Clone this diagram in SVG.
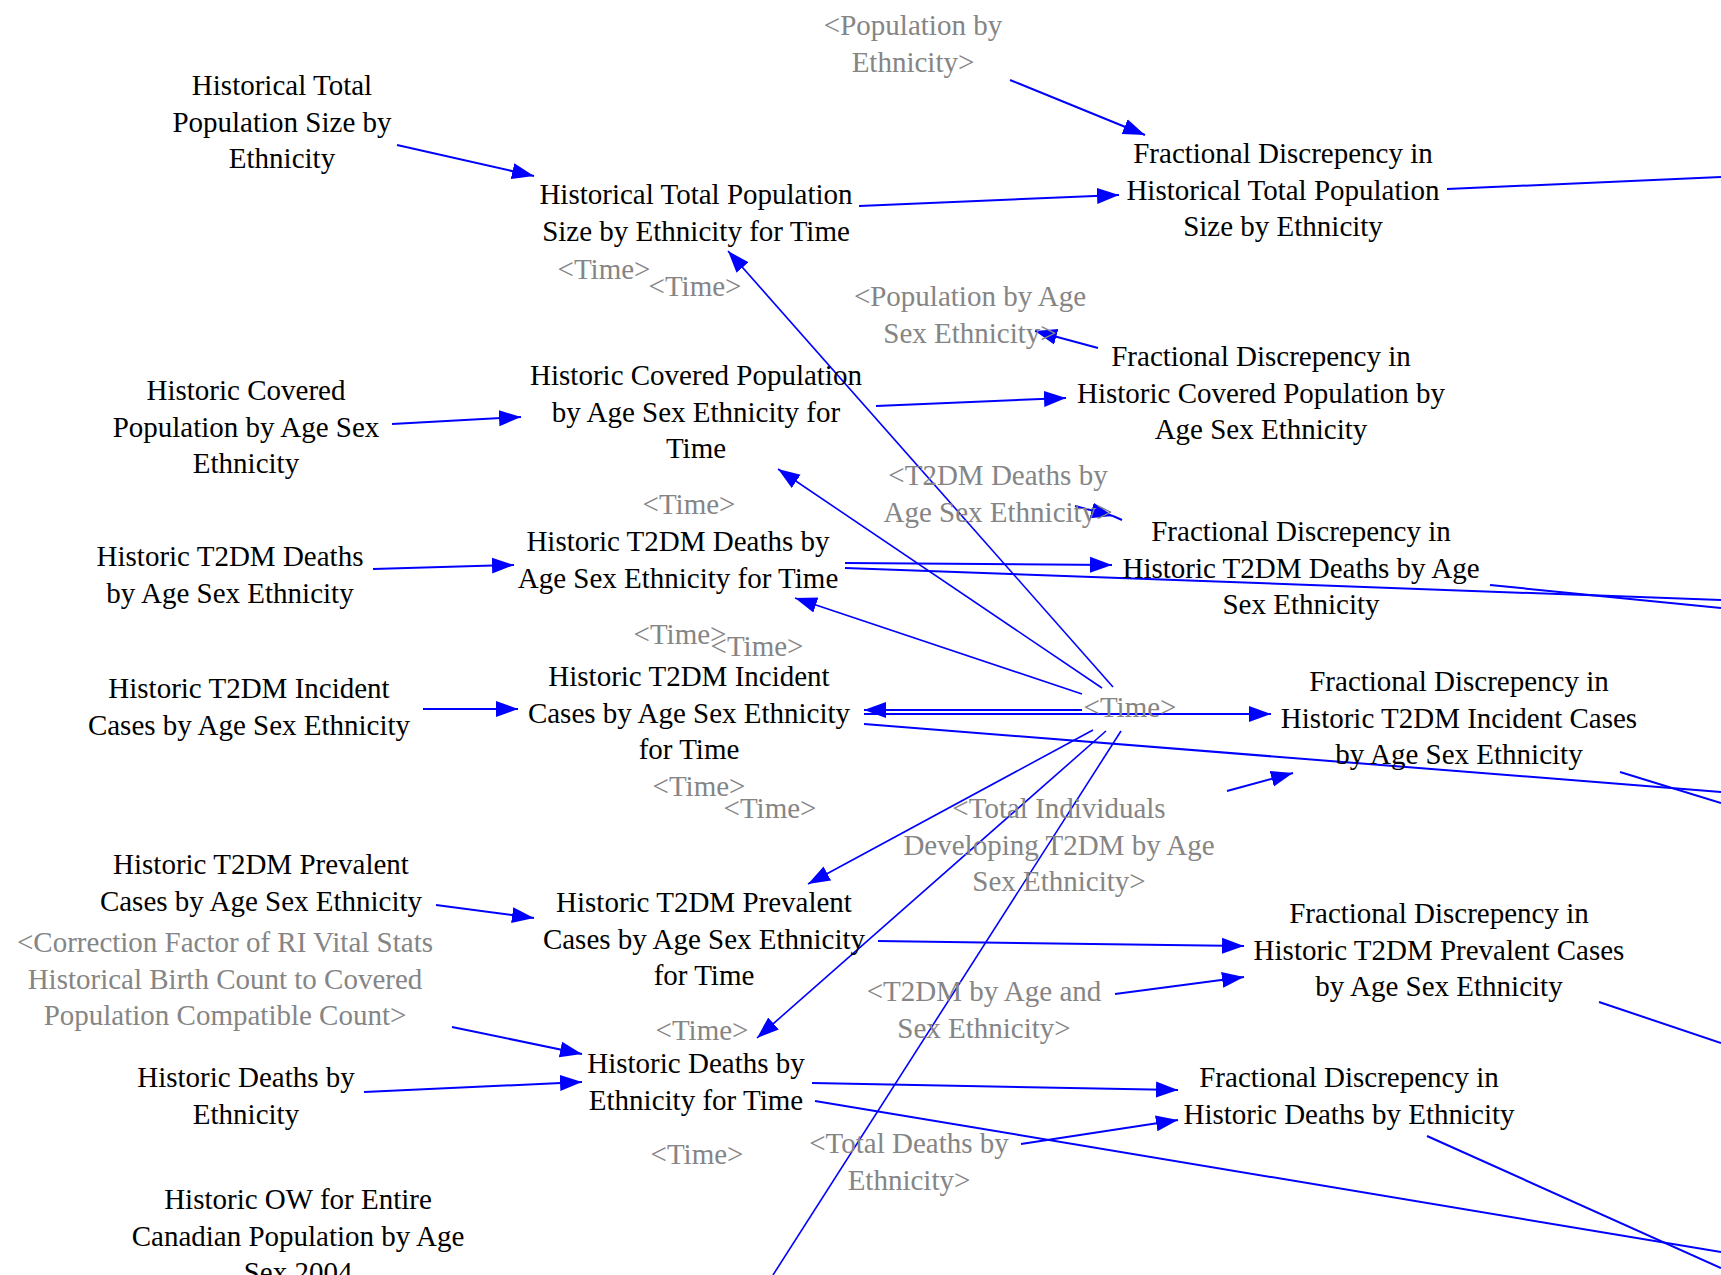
<svg xmlns="http://www.w3.org/2000/svg" width="1721" height="1275" viewBox="0 0 1721 1275">
<style>
.n{font-family:"Liberation Serif","Times New Roman",serif;font-size:29px;fill:#000;text-anchor:middle}
.g{font-family:"Liberation Serif","Times New Roman",serif;font-size:29px;fill:#858585;text-anchor:middle}
.c line{stroke:#0000FF;stroke-width:2;fill:none}
.c line.a{marker-end:url(#ah)}
.c line.t{stroke-width:1.6}
</style>
<defs>
<marker id="ah" markerUnits="userSpaceOnUse" markerWidth="24" markerHeight="18" refX="22" refY="8.5" orient="auto" viewBox="0 0 24 18">
<path d="M0,0.5 L22,8.5 L0,16.5 z" fill="#0000FF"/>
</marker>
</defs>
<rect width="1721" height="1275" fill="#fff"/>
<g class="c" id="connectors">
<line class="a" x1="397" y1="145" x2="534" y2="176"/>
<line class="a" x1="859" y1="206" x2="1119" y2="195"/>
<line class="a" x1="1010" y1="80" x2="1145" y2="135"/>
<line x1="1447" y1="189" x2="1721" y2="177"/>
<line class="a t" x1="1113" y1="687" x2="728" y2="251"/>
<line class="a t" x1="1102" y1="688" x2="778" y2="469"/>
<line class="a t" x1="1082" y1="694" x2="795" y2="598"/>
<line class="a" x1="1082" y1="710" x2="864" y2="710"/>
<line class="a" x1="864" y1="714" x2="1271" y2="714"/>
<line class="a t" x1="1093" y1="730" x2="808" y2="884"/>
<line class="a t" x1="1106" y1="731" x2="757" y2="1038"/>
<line class="t" x1="1121" y1="731" x2="773" y2="1275"/>
<line class="a" x1="392" y1="424" x2="521" y2="417"/>
<line class="a" x1="876" y1="406" x2="1066" y2="398"/>
<line class="a" x1="1098" y1="348" x2="1035" y2="331"/>
<line class="a" x1="1075" y1="506" x2="1113" y2="516"/>
<line x1="1113" y1="516" x2="1122" y2="520"/>
<line class="a" x1="373" y1="569" x2="514" y2="565"/>
<line class="a" x1="845" y1="563" x2="1112" y2="565"/>
<line x1="845" y1="568" x2="1721" y2="600"/>
<line x1="1490" y1="585" x2="1721" y2="608"/>
<line class="a" x1="423" y1="709" x2="518" y2="709"/>
<line x1="864" y1="724" x2="1721" y2="792"/>
<line x1="1620" y1="772" x2="1721" y2="803"/>
<line class="a" x1="1227" y1="791" x2="1293" y2="773"/>
<line class="a" x1="436" y1="905" x2="534" y2="918"/>
<line class="a" x1="878" y1="941" x2="1244" y2="946"/>
<line class="a" x1="1115" y1="994" x2="1244" y2="977"/>
<line x1="1599" y1="1002" x2="1721" y2="1043"/>
<line class="a" x1="452" y1="1027" x2="582" y2="1054"/>
<line class="a" x1="364" y1="1092" x2="582" y2="1082"/>
<line class="a" x1="812" y1="1083" x2="1178" y2="1090"/>
<line x1="815" y1="1101" x2="1721" y2="1252"/>
<line class="a" x1="1021" y1="1144" x2="1178" y2="1120"/>
<line x1="1427" y1="1136" x2="1721" y2="1268"/>
</g>
<g id="n1"><text class="n" x="282" y="95"><tspan x="282">Historical Total</tspan><tspan x="282" dy="36.7">Population Size by</tspan><tspan x="282" dy="36.7">Ethnicity</tspan></text></g>
<g id="n2"><text class="n" x="696" y="204"><tspan x="696">Historical Total Population</tspan><tspan x="696" dy="36.7">Size by Ethnicity for Time</tspan></text></g>
<g id="n3"><text class="g" x="913" y="35"><tspan x="913">&lt;Population by</tspan><tspan x="913" dy="36.7">Ethnicity&gt;</tspan></text></g>
<g id="n4"><text class="n" x="1283" y="163"><tspan x="1283">Fractional Discrepency in</tspan><tspan x="1283" dy="36.7">Historical Total Population</tspan><tspan x="1283" dy="36.7">Size by Ethnicity</tspan></text></g>
<g id="t1"><text class="g" x="604" y="279">&lt;Time&gt;</text></g>
<g id="t2"><text class="g" x="695" y="296">&lt;Time&gt;</text></g>
<g id="n6"><text class="g" x="970" y="306"><tspan x="970">&lt;Population by Age</tspan><tspan x="970" dy="36.7">Sex Ethnicity&gt;</tspan></text></g>
<g id="n7"><text class="n" x="246" y="400"><tspan x="246">Historic Covered</tspan><tspan x="246" dy="36.7">Population by Age Sex</tspan><tspan x="246" dy="36.7">Ethnicity</tspan></text></g>
<g id="n8"><text class="n" x="696" y="385"><tspan x="696">Historic Covered Population</tspan><tspan x="696" dy="36.7">by Age Sex Ethnicity for</tspan><tspan x="696" dy="36.7">Time</tspan></text></g>
<g id="n9"><text class="n" x="1261" y="366"><tspan x="1261">Fractional Discrepency in</tspan><tspan x="1261" dy="36.7">Historic Covered Population by</tspan><tspan x="1261" dy="36.7">Age Sex Ethnicity</tspan></text></g>
<g id="n10"><text class="g" x="998" y="485"><tspan x="998">&lt;T2DM Deaths by</tspan><tspan x="998" dy="36.7">Age Sex Ethnicity&gt;</tspan></text></g>
<g id="t3"><text class="g" x="689" y="514">&lt;Time&gt;</text></g>
<g id="n12"><text class="n" x="230" y="566"><tspan x="230">Historic T2DM Deaths</tspan><tspan x="230" dy="36.7">by Age Sex Ethnicity</tspan></text></g>
<g id="n13"><text class="n" x="678" y="551"><tspan x="678">Historic T2DM Deaths by</tspan><tspan x="678" dy="36.7">Age Sex Ethnicity for Time</tspan></text></g>
<g id="n14"><text class="n" x="1301" y="541"><tspan x="1301">Fractional Discrepency in</tspan><tspan x="1301" dy="36.7">Historic T2DM Deaths by Age</tspan><tspan x="1301" dy="36.7">Sex Ethnicity</tspan></text></g>
<g id="t4"><text class="g" x="680" y="644">&lt;Time&gt;</text></g>
<g id="t5"><text class="g" x="757" y="656">&lt;Time&gt;</text></g>
<g id="n16"><text class="n" x="249" y="698"><tspan x="249">Historic T2DM Incident</tspan><tspan x="249" dy="36.7">Cases by Age Sex Ethnicity</tspan></text></g>
<g id="n17"><text class="n" x="689" y="686"><tspan x="689">Historic T2DM Incident</tspan><tspan x="689" dy="36.7">Cases by Age Sex Ethnicity</tspan><tspan x="689" dy="36.7">for Time</tspan></text></g>
<g id="hub"><text class="g" x="1130" y="717">&lt;Time&gt;</text></g>
<g id="n19"><text class="n" x="1459" y="691"><tspan x="1459">Fractional Discrepency in</tspan><tspan x="1459" dy="36.7">Historic T2DM Incident Cases</tspan><tspan x="1459" dy="36.7">by Age Sex Ethnicity</tspan></text></g>
<g id="t6"><text class="g" x="699" y="796">&lt;Time&gt;</text></g>
<g id="t7"><text class="g" x="770" y="818">&lt;Time&gt;</text></g>
<g id="n21"><text class="g" x="1059" y="818"><tspan x="1059">&lt;Total Individuals</tspan><tspan x="1059" dy="36.7">Developing T2DM by Age</tspan><tspan x="1059" dy="36.7">Sex Ethnicity&gt;</tspan></text></g>
<g id="n22"><text class="n" x="261" y="874"><tspan x="261">Historic T2DM Prevalent</tspan><tspan x="261" dy="36.7">Cases by Age Sex Ethnicity</tspan></text></g>
<g id="n23"><text class="g" x="225" y="952"><tspan x="225">&lt;Correction Factor of RI Vital Stats</tspan><tspan x="225" dy="36.7">Historical Birth Count to Covered</tspan><tspan x="225" dy="36.7">Population Compatible Count&gt;</tspan></text></g>
<g id="n24"><text class="n" x="704" y="912"><tspan x="704">Historic T2DM Prevalent</tspan><tspan x="704" dy="36.7">Cases by Age Sex Ethnicity</tspan><tspan x="704" dy="36.7">for Time</tspan></text></g>
<g id="n25"><text class="n" x="1439" y="923"><tspan x="1439">Fractional Discrepency in</tspan><tspan x="1439" dy="36.7">Historic T2DM Prevalent Cases</tspan><tspan x="1439" dy="36.7">by Age Sex Ethnicity</tspan></text></g>
<g id="n26"><text class="g" x="984" y="1001"><tspan x="984">&lt;T2DM by Age and</tspan><tspan x="984" dy="36.7">Sex Ethnicity&gt;</tspan></text></g>
<g id="t8"><text class="g" x="702" y="1040">&lt;Time&gt;</text></g>
<g id="n28"><text class="n" x="246" y="1087"><tspan x="246">Historic Deaths by</tspan><tspan x="246" dy="36.7">Ethnicity</tspan></text></g>
<g id="n29"><text class="n" x="696" y="1073"><tspan x="696">Historic Deaths by</tspan><tspan x="696" dy="36.7">Ethnicity for Time</tspan></text></g>
<g id="n30"><text class="n" x="1349" y="1087"><tspan x="1349">Fractional Discrepency in</tspan><tspan x="1349" dy="36.7">Historic Deaths by Ethnicity</tspan></text></g>
<g id="n31"><text class="g" x="909" y="1153"><tspan x="909">&lt;Total Deaths by</tspan><tspan x="909" dy="36.7">Ethnicity&gt;</tspan></text></g>
<g id="t9"><text class="g" x="697" y="1164">&lt;Time&gt;</text></g>
<g id="n33"><text class="n" x="298" y="1209"><tspan x="298">Historic OW for Entire</tspan><tspan x="298" dy="36.7">Canadian Population by Age</tspan><tspan x="298" dy="36.7">Sex 2004</tspan></text></g>
</svg>
